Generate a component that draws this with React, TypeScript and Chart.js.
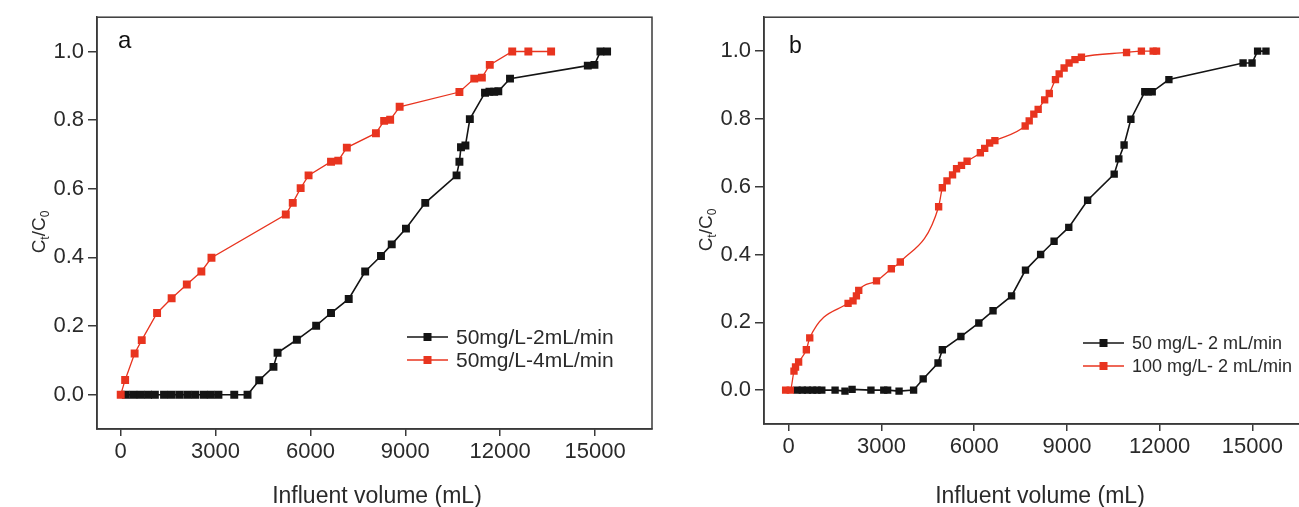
import React, { useEffect, useRef } from 'react';
import { Chart, registerables } from 'chart.js';
Chart.register(...registerables);

// ---------- Data ----------
const X_TICKS = [0, 3000, 6000, 9000, 12000, 15000];
const Y_TICKS = [0, 0.2, 0.4, 0.6, 0.8, 1.0];
const X_TITLE = 'Influent volume (mL)';

// Panel a
const A_LEGEND = ['50mg/L-2mL/min', '50mg/L-4mL/min'];
const A_BLACK_X = [160, 400, 630, 865, 1080, 1370, 1610, 1860, 2110, 2350, 2620, 2850, 3090, 3590, 4010,
  4380, 4830, 4960, 5570, 6180, 6650, 7210, 7730, 8230, 8570, 9020, 9630, 10620, 10710, 10760, 10900,
  11040, 11520, 11660, 11810, 11940, 12310, 14770, 14980, 15170, 15380];
const A_BLACK_Y = [0, 0, 0, 0, 0, 0, 0, 0, 0, 0, 0, 0, 0, 0, 0,
  0.042, 0.081, 0.122, 0.16, 0.201, 0.238, 0.279, 0.359, 0.404, 0.438, 0.484, 0.559, 0.639, 0.679, 0.721, 0.726,
  0.803, 0.88, 0.883, 0.883, 0.884, 0.921, 0.959, 0.961, 1.0, 1.0];
const A_RED_X = [0, 140, 440, 665, 1150, 1610, 2090, 2550, 2870, 5220, 5440, 5690, 5940, 6650, 6880, 7150,
  8070, 8330, 8520, 8820, 10710, 11180, 11420, 11670, 12380, 12890, 13610];
const A_RED_Y = [0, 0.043, 0.12, 0.159, 0.238, 0.281, 0.321, 0.359, 0.399, 0.525, 0.559, 0.602, 0.639, 0.679, 0.682, 0.72,
  0.762, 0.798, 0.801, 0.839, 0.882, 0.921, 0.924, 0.961, 1.0, 1.0, 1.0];

// Panel b
const B_LEGEND = ['50 mg/L- 2 mL/min', '100 mg/L- 2 mL/min'];
const B_BLACK_X = [270, 440, 605, 770, 915, 1070, 1500, 1820, 2050, 2660, 3075, 3200, 3570, 4040,
  4350, 4830, 4970, 5570, 6150, 6610, 7210, 7660, 8150, 8585, 9060, 9670, 10530, 10680, 10850, 11070,
  11520, 11630, 11760, 12300, 14700, 14990, 15170, 15440];
const B_BLACK_Y = [0, 0, 0, 0, 0, 0, 0, -0.003, 0.002, 0, 0, 0, -0.003, 0,
  0.033, 0.08, 0.119, 0.158, 0.198, 0.234, 0.278, 0.354, 0.4, 0.439, 0.48, 0.56, 0.637, 0.682, 0.723, 0.799,
  0.88, 0.88, 0.88, 0.916, 0.965, 0.965, 1.0, 1.0];
const B_RED_X = [-100, 50, 170, 220, 320, 570, 680, 1920, 2080, 2190, 2265, 2840, 3320, 3610, 4850, 4970, 5120,
  5300, 5430, 5590, 5770, 6200, 6340, 6500, 6670, 7650, 7780, 7930, 8070, 8280, 8430, 8630, 8750, 8910, 9070,
  9260, 9470, 10930, 11410, 11790, 11900];
const B_RED_Y = [0, 0, 0.056, 0.068, 0.083, 0.119, 0.154, 0.256, 0.263, 0.278, 0.294, 0.322, 0.358, 0.378, 0.541, 0.597, 0.617,
  0.635, 0.653, 0.663, 0.675, 0.7, 0.713, 0.729, 0.736, 0.779, 0.794, 0.814, 0.828, 0.856, 0.875, 0.916, 0.933, 0.95, 0.965,
  0.975, 0.982, 0.996, 1.0, 1.0, 1.0];

// ---------- Styles ----------
const RED = '#e8341f';
const BLACK = '#141414';
const AXIS = '#3a3a3a';
const TEXT = '#2a2a2a';
const FONT = '"Liberation Sans", Arial, sans-serif';

type Series = { xs: number[]; ys: number[]; color: string; tension: number; width: number; radius: number };
type Panel = {
  letter: string; letterX: number; letterY: number; letterSize: number;
  canvasW: number; yScaleW: number; padRight: number; xScaleH: number; xMin: number; xMax: number;
  series: Series[]; legend: string[]; legendX1: number; legendX2: number; legendTextX: number; legendY: number[];
  legendSize: number; yTitleX: number; yTitleY: number; xTitleX: number; xTitleY: number;
};

function makeChart(canvas: HTMLCanvasElement, p: Panel) {
  const decor = {
    id: 'decor',
    afterDraw(chart: any) {
      const ctx = chart.ctx as CanvasRenderingContext2D;
      const a = chart.chartArea;
      ctx.save();
      // box
      ctx.strokeStyle = AXIS;
      ctx.lineWidth = 1.5;
      ctx.strokeRect(a.left, a.top, a.right - a.left, a.bottom - a.top);
      // panel letter
      ctx.fillStyle = '#111';
      ctx.font = `${p.letterSize}px ${FONT}`;
      ctx.textAlign = 'left';
      ctx.textBaseline = 'alphabetic';
      ctx.fillText(p.letter, p.letterX, p.letterY);
      // legend
      p.legend.forEach((txt, i) => {
        const s = p.series[i];
        const y = p.legendY[i];
        ctx.strokeStyle = s.color;
        ctx.lineWidth = 1.5;
        ctx.beginPath();
        ctx.moveTo(p.legendX1, y);
        ctx.lineTo(p.legendX2, y);
        ctx.stroke();
        ctx.fillStyle = s.color;
        const mx = (p.legendX1 + p.legendX2) / 2;
        ctx.fillRect(mx - 4, y - 4, 8, 8);
        ctx.fillStyle = TEXT;
        ctx.font = `${p.legendSize}px ${FONT}`;
        ctx.textAlign = 'left';
        ctx.textBaseline = 'middle';
        ctx.fillText(txt, p.legendTextX, y + 1);
      });
      // x title
      ctx.fillStyle = TEXT;
      ctx.font = `23px ${FONT}`;
      ctx.textAlign = 'center';
      ctx.textBaseline = 'middle';
      ctx.fillText(X_TITLE, p.xTitleX, p.xTitleY);
      // y title C_t/C_0 (rotated)
      ctx.translate(p.yTitleX, p.yTitleY);
      ctx.rotate(-Math.PI / 2);
      const big = `19px ${FONT}`;
      const small = `12px ${FONT}`;
      const parts: [string, string, number][] = [['C', big, 0], ['t', small, 4], ['/C', big, 0], ['0', small, 4]];
      let total = 0;
      parts.forEach(([t, f]) => { ctx.font = f; total += ctx.measureText(t).width; });
      let x = -total / 2;
      ctx.textAlign = 'left';
      ctx.textBaseline = 'alphabetic';
      parts.forEach(([t, f, dy]) => {
        ctx.font = f;
        ctx.fillText(t, x, dy);
        x += ctx.measureText(t).width;
      });
      ctx.restore();
    },
  };

  const datasets = p.series.map((s, i) => ({
    data: s.xs.map((x, j) => ({ x, y: s.ys[j] })),
    borderColor: s.color,
    backgroundColor: s.color,
    borderWidth: s.width,
    pointStyle: 'rect',
    pointRadius: s.radius,
    pointBorderWidth: 0,
    pointBackgroundColor: s.color,
    tension: s.tension,
    cubicInterpolationMode: s.tension > 0 ? 'monotone' : 'default',
    order: i === 1 ? 0 : 1,
  }));

  return new Chart(canvas, {
    type: 'line',
    data: { datasets } as any,
    plugins: [decor],
    options: {
      responsive: false,
      animation: false,
      events: [],
      layout: { padding: { top: 15, right: p.padRight, left: 0, bottom: 0 } },
      plugins: { legend: { display: false }, tooltip: { enabled: false } },
      scales: {
        x: {
          type: 'linear',
          min: p.xMin,
          max: p.xMax,
          afterBuildTicks: (s: any) => { s.ticks = X_TICKS.map((v) => ({ value: v })); },
          afterFit: (s: any) => { s.height = p.xScaleH; },
          grid: { display: true, drawOnChartArea: false, drawTicks: true, tickLength: 7, color: AXIS, lineWidth: 1.5 },
          border: { display: true, color: AXIS, width: 1.5 },
          ticks: { color: TEXT, font: { family: FONT, size: 22 }, padding: 3, maxRotation: 0, autoSkip: false, callback: (v: any) => String(v) },
        },
        y: {
          type: 'linear',
          min: -0.1,
          max: 1.1,
          afterBuildTicks: (s: any) => { s.ticks = Y_TICKS.map((v) => ({ value: v })); },
          afterFit: (s: any) => { s.width = p.yScaleW; },
          grid: { display: true, drawOnChartArea: false, drawTicks: true, tickLength: 9, color: AXIS, lineWidth: 1.5 },
          border: { display: true, color: AXIS, width: 1.5 },
          ticks: { color: TEXT, font: { family: FONT, size: 22 }, padding: 4, autoSkip: false, callback: (v: any) => Number(v).toFixed(1) },
        },
      },
    } as any,
  });
}

const PANEL_A: Panel = {
  letter: 'a', letterX: 118, letterY: 48, letterSize: 24,
  canvasW: 660, yScaleW: 97, padRight: 8, xScaleH: 78, xMin: -750, xMax: 16800,
  series: [
    { xs: A_BLACK_X, ys: A_BLACK_Y, color: BLACK, tension: 0, width: 1.6, radius: 5.6 },
    { xs: A_RED_X, ys: A_RED_Y, color: RED, tension: 0, width: 1.3, radius: 5.6 },
  ],
  legend: A_LEGEND, legendX1: 407, legendX2: 448, legendTextX: 456, legendY: [337, 360], legendSize: 21,
  yTitleX: 45, yTitleY: 232, xTitleX: 377, xTitleY: 497,
};

const PANEL_B: Panel = {
  letter: 'b', letterX: 129, letterY: 53, letterSize: 23,
  canvasW: 660, yScaleW: 104, padRight: 12, xScaleH: 83, xMin: -800, xMax: 16800,
  series: [
    { xs: B_BLACK_X, ys: B_BLACK_Y, color: BLACK, tension: 0, width: 1.6, radius: 5.2 },
    { xs: B_RED_X, ys: B_RED_Y, color: RED, tension: 0.3, width: 1.3, radius: 5.2 },
  ],
  legend: B_LEGEND, legendX1: 423, legendX2: 464, legendTextX: 472, legendY: [343, 366], legendSize: 18,
  yTitleX: 52, yTitleY: 230, xTitleX: 380, xTitleY: 497,
};

function PanelChart({ panel, left }: { panel: Panel; left: number }) {
  const ref = useRef<HTMLCanvasElement>(null);
  useEffect(() => {
    if (!ref.current) return;
    const c = makeChart(ref.current, panel);
    return () => c.destroy();
  }, [panel]);
  return (
    <canvas
      ref={ref}
      width={panel.canvasW}
      height={507}
      style={{ position: 'absolute', left, top: 0, width: panel.canvasW, height: 507 }}
    />
  );
}

export default function App() {
  return (
    <div style={{ position: 'fixed', left: 0, top: 0, width: 1299, height: 507, overflow: 'hidden', background: '#fff' }}>
      <PanelChart panel={PANEL_A} left={0} />
      <PanelChart panel={PANEL_B} left={660} />
    </div>
  );
}
